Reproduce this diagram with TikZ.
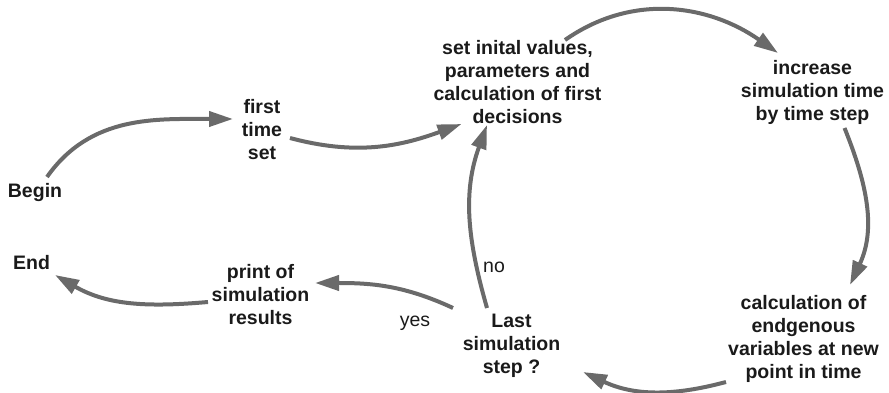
\documentclass[tikz,border=0pt]{standalone}
\usepackage{fontspec}
\setmainfont{Liberation Sans}
\usetikzlibrary{arrows.meta}
\definecolor{arrowgray}{HTML}{6A6A6A}
\definecolor{txt}{HTML}{1A1A1A}
\begin{document}
\begin{tikzpicture}[x=1pt,y=1pt,
  lbl/.style={font=\fontsize{19.5}{23}\selectfont\bfseries, align=center, inner sep=0pt, outer sep=0pt, text=txt},
  ans/.style={font=\fontsize{19.5}{23}\selectfont, inner sep=0pt, outer sep=0pt, text=txt},
  flow/.style={draw=arrowgray, line width=4pt, -{Triangle[length=24pt,width=15pt]}}]
\useasboundingbox (0,0) rectangle (889,393);

\node[lbl] (begin) at (35,200.5) {Begin};
\node[lbl] (first) at (262,263.5) {first\\time\\set};
\node[lbl] (init) at (517.5,311) {set inital values,\\parameters and\\calculation of first\\decisions};
\node[lbl] (inc) at (812.5,301) {increase\\simulation time\\by time step};
\node[lbl] (calc) at (803.5,54) {calculation of\\endgenous\\variables at new\\point in time};
\node[lbl] (last) at (511.5,47) {Last\\simulation\\step ?};
\node[lbl] (print) at (260.5,98) {print of\\simulation\\results};
\node[lbl] (end) at (31.5,130) {End};
\node[ans] (no) at (494,126) {no};
\node[ans] (yes) at (415,70) {yes};

\draw[flow] ([shift={(12,15.5)}]begin.center) to[out=55,in=180] ([shift={(-29,10.5)}]first.center);
\draw[flow] ([shift={(28,-8.5)}]first.center) to[out=-15,in=200] ([shift={(-56,-42)}]init.center);
\draw[flow] ([shift={(47.5,42)}]init.center) to[out=35,in=145] ([shift={(-34.5,39)}]inc.center);
\draw[flow] ([shift={(32,-36)}]inc.center) to[out=-68,in=65] ([shift={(46.5,54)}]calc.center);
\draw[flow] ([shift={(-77.5,-43)}]calc.center) to[out=195,in=-25] ([shift={(71.5,-26)}]last.center);
\draw[flow] ([shift={(-24.5,38)}]last.center) to[out=106,in=250] ([shift={(-30.5,-43)}]init.center);
\draw[flow] ([shift={(-58.5,38)}]last.center) to[out=155,in=0] ([shift={(54.5,12)}]print.center);
\draw[flow] ([shift={(-52.5,-7)}]print.center) to[out=185,in=-30] ([shift={(23.5,-12)}]end.center);
\end{tikzpicture}
\end{document}
